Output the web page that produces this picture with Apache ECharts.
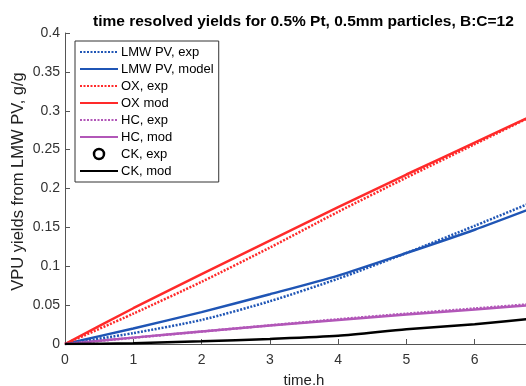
<!DOCTYPE html>
<html>
<head>
<meta charset="utf-8">
<script src="https://cdn.jsdelivr.net/npm/echarts@6/dist/echarts.min.js"></script>
<style>html,body{margin:0;padding:0;background:#fff}#c{width:526px;height:386px}</style>
</head>
<body>
<div id="c"></div>
<script>
const timeH = [0, 1, 2, 3, 4, 5, 6, 7];
const lmwExp = [0, 0.014, 0.031, 0.055, 0.084, 0.117, 0.152, 0.188];
const lmwModel = [0, 0.020, 0.041, 0.064, 0.088, 0.117, 0.147, 0.180];
const oxExp = [0, 0.039, 0.080, 0.124, 0.170, 0.214, 0.257, 0.300];
const oxMod = [0, 0.046, 0.090, 0.133, 0.176, 0.218, 0.259, 0.300];
const hcExp = [0, 0.008, 0.016, 0.024, 0.0318, 0.039, 0.0457, 0.0525];
const hcMod = [0, 0.0082, 0.016, 0.0237, 0.031, 0.038, 0.0445, 0.051];
const ckExp = [];
const ckMod = [0, 0.001, 0.0035, 0.0065, 0.0105, 0.019, 0.0255, 0.034];
const yTicks = [0, 0.05, 0.1, 0.15, 0.2, 0.25, 0.3, 0.35, 0.4];

const blue = '#1f55b5', red = '#ff2a2a', purple = '#b257b8', black = '#000000';
const pair = (ys) => ys.map((v, i) => [timeH[i], v]);
const dotted = [2, 1.5];

function lineSeries(name, ys, color, type, z) {
  return {
    name, type: 'line', data: pair(ys), symbol: 'none', smooth: 0.25, z: z,
    lineStyle: { color, width: 2.5, type },
    itemStyle: { color },
    emphasis: { disabled: true }
  };
}

const chart = echarts.init(document.getElementById('c'), null, { renderer: 'canvas' });
chart.setOption({
  animation: false,
  backgroundColor: '#fff',
  textStyle: { fontFamily: 'Liberation Sans, Arial, sans-serif' },
  title: {
    text: 'time resolved yields for 0.5% Pt, 0.5mm particles, B:C=12',
    left: 88, top: 9,
    textStyle: { fontSize: 15.5, fontWeight: 'bold', color: '#000', fontFamily: 'Liberation Sans, Arial, sans-serif' }
  },
  grid: { left: 65, top: 33, bottom: 42, right: -17, containLabel: false, outerBoundsMode: 'none' },
  legend: {
    orient: 'vertical', left: 75, top: 41,
    itemWidth: 38, itemHeight: 10, itemGap: 3,
    padding: [4, 5, 4, 4],
    borderColor: '#333', borderWidth: 1, backgroundColor: '#fff',
    itemStyle: { opacity: 0 },
    textStyle: { fontSize: 13, color: '#000', lineHeight: 14, padding: [0, 0, 0, -2] },
    data: ['LMW PV, exp', 'LMW PV, model', 'OX, exp', 'OX mod', 'HC, exp', 'HC, mod',
      { name: 'CK, exp', icon: 'circle', itemStyle: { opacity: 1, color: '#fff', borderColor: '#000', borderWidth: 2.5 } },
      'CK, mod']
  },
  xAxis: {
    type: 'value', min: 0, max: 7, interval: 1,
    name: 'time.h', nameLocation: 'middle', nameGap: 29, nameMoveOverlap: false,
    nameTextStyle: { fontSize: 15, color: '#222' },
    axisLine: { onZero: false, lineStyle: { color: '#555', width: 1 } },
    axisTick: { inside: true, length: 5, lineStyle: { color: '#555' } },
    axisLabel: { fontSize: 14, color: '#333', margin: 9 },
    splitLine: { show: false }
  },
  yAxis: {
    type: 'value', min: 0, max: 0.4, interval: 0.05,
    name: 'VPU yields from LMW PV, g/g', nameLocation: 'middle', nameGap: 38, nameMoveOverlap: false,
    nameTextStyle: { fontSize: 16.5, color: '#222', padding: [0, 0, 0, 14] },
    axisLine: { show: true, lineStyle: { color: '#555', width: 1 } },
    axisTick: { show: true, inside: true, length: 5, lineStyle: { color: '#555' } },
    axisLabel: { fontSize: 14, color: '#333', margin: 5, formatter: (v) => String(+v.toFixed(2)) },
    splitLine: { show: false }
  },
  series: [
    lineSeries('LMW PV, exp', lmwExp, blue, dotted, 3),
    lineSeries('LMW PV, model', lmwModel, blue, 'solid', 2),
    lineSeries('OX, exp', oxExp, red, dotted, 3),
    lineSeries('OX mod', oxMod, red, 'solid', 2),
    lineSeries('HC, exp', hcExp, purple, dotted, 3),
    lineSeries('HC, mod', hcMod, purple, 'solid', 2),
    {
      name: 'CK, exp', type: 'scatter', data: pair(ckExp), symbol: 'circle', symbolSize: 8,
      itemStyle: { color: '#fff', borderColor: '#000', borderWidth: 2.5 }
    },
    lineSeries('CK, mod', ckMod, black, 'solid', 4)
  ]
});
</script>
</body>
</html>
